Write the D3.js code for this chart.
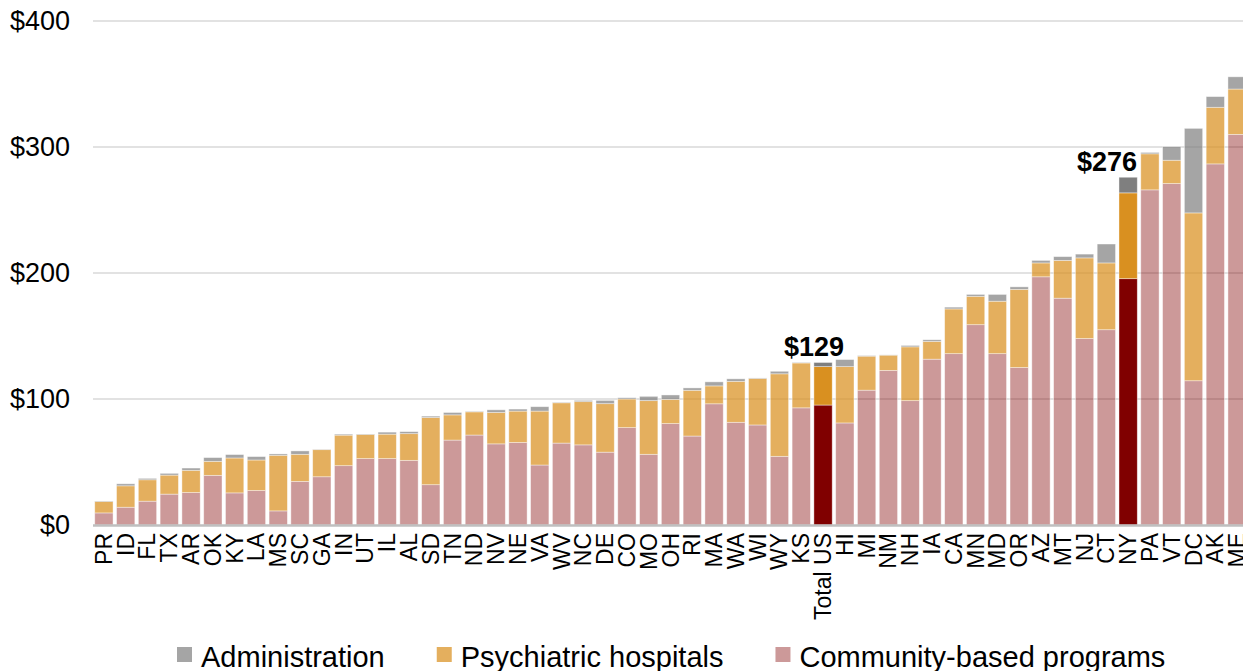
<!DOCTYPE html>
<html>
<head>
<meta charset="utf-8">
<script src="https://cdn.jsdelivr.net/npm/d3@7"></script>
<style>
  body { margin: 0; background: #fff; }
  text { font-family: "Liberation Sans", Arial, sans-serif; fill: #000; }
</style>
</head>
<body>
<svg id="chart" width="1243" height="671"></svg>
<script>
// spending per capita, in dollars
var states = ['PR','ID','FL','TX','AR','OK','KY','LA','MS','SC','GA','IN','UT','IL','AL','SD','TN','ND','NV','NE',
              'VA','WV','NC','DE','CO','MO','OH','RI','MA','WA','WI','WY','KS','Total US','HI','MI','NM','NH','IA','CA',
              'MN','MD','OR','AZ','MT','NJ','CT','NY','PA','VT','DC','AK','ME'];

var community = [9.6,14.1,18.9,24.5,25.8,39.4,25.5,27.4,11.2,34.6,38.3,47.1,52.7,52.7,51.3,32,67.4,71.4,64.4,65.5,
                 47.6,65,63.6,57.8,77.3,56.1,80.5,70.6,96.2,81.5,79.4,54.5,93,95.2,81,107,122.7,98.7,131.6,136,
                 159,136,125,197,180,148,155,195.5,266,271,114.5,286.6,310];

var hospitals = [9.0,17.0,17.0,15.1,17.6,11.1,27.7,24.2,44.1,21.5,21.5,24.2,19.1,19.4,21.2,53.3,20,18.4,24.9,24.9,
                 42.8,32,34.3,38.5,22.7,42.6,19.2,36.3,14.2,32.5,36.9,65.5,35.6,30.5,44.7,27,12.1,42.7,14.1,35.5,
                 22.5,41.6,62,11,30,64,53,68.1,28.6,18.5,133.2,44.9,36];

var admin = [0.4,1.6,1.1,1.4,1.8,3.0,2.7,2.7,1.1,2.7,0.3,0.8,0.4,1.6,1.6,1.1,1.9,0.4,2.1,1.6,
             3.5,0.4,1.0,2.6,1.0,3.4,3.5,1.9,3.2,2.0,0.4,2.0,0.4,3.3,5.6,0.4,0.2,1.1,1.3,1.4,
             1.5,5.4,2,2,3,3,15,12.4,1.1,10.8,67.1,8.5,9.7];

var highlighted = ['Total US','NY'];
var yTicks = [0,100,200,300,400];

var seriesKeys = ['community','hospitals','admin'];
var seriesColor = { community: '#800000', hospitals: '#d99020', admin: '#7f7f7f' };
var paleOpacity = { community: 0.4, hospitals: 0.72, admin: 0.7 };
var legendItems = [
  { key: 'admin', label: 'Administration' },
  { key: 'hospitals', label: 'Psychiatric hospitals' },
  { key: 'community', label: 'Community-based programs' }
];

var rows = states.map(function(s, i) {
  return { state: s, community: community[i], hospitals: hospitals[i], admin: admin[i] };
});

var svg = d3.select('#chart');

var x = d3.scaleBand()
    .domain(states)
    .range([93, 1248])
    .paddingInner(0.16)
    .paddingOuter(0.08);

var y = d3.scaleLinear()
    .domain([0, 400])
    .range([525, 21]);

// gridlines
svg.append('g')
   .selectAll('line')
   .data(yTicks.filter(function(d){ return d > 0; }))
   .enter().append('line')
    .attr('x1', 93).attr('x2', 1243)
    .attr('y1', function(d){ return y(d); })
    .attr('y2', function(d){ return y(d); })
    .attr('stroke', '#d9d9d9')
    .attr('stroke-width', 1.5);

// y axis labels
var yAxis = d3.axisLeft(y)
    .tickValues(yTicks)
    .tickSize(0)
    .tickPadding(0)
    .tickFormat(function(d){ return '$' + d; });

var yg = svg.append('g')
    .attr('transform', 'translate(70,0)')
    .call(yAxis);
yg.select('.domain').remove();
yg.selectAll('text')
  .attr('font-size', 27)
  .attr('font-family', '"Liberation Sans", Arial, sans-serif')
  .attr('fill', '#000');

// stacked bars
var stack = d3.stack().keys(seriesKeys);
var layers = stack(rows);

svg.append('g')
   .selectAll('g')
   .data(layers)
   .enter().append('g')
    .attr('class', function(d){ return 'layer ' + d.key; })
   .each(function(layer) {
     d3.select(this).selectAll('rect')
       .data(layer)
       .enter().append('rect')
        .attr('x', function(d){ return x(d.data.state); })
        .attr('width', x.bandwidth())
        .attr('y', function(d){ return y(d[1]); })
        .attr('height', function(d){ return y(d[0]) - y(d[1]); })
        .attr('fill', seriesColor[layer.key])
        .attr('fill-opacity', function(d){
          return highlighted.indexOf(d.data.state) >= 0 ? 1 : paleOpacity[layer.key];
        })
        .attr('stroke', '#fff')
        .attr('stroke-opacity', 0.5)
        .attr('stroke-width', 0.8);
   });

// baseline
svg.append('line')
   .attr('x1', 93).attr('x2', 1243)
   .attr('y1', y(0) + 0.5).attr('y2', y(0) + 0.5)
   .attr('stroke', '#bfbfbf')
   .attr('stroke-width', 2.5);

// x labels (rotated)
var xg = svg.append('g');
xg.selectAll('text')
  .data(states)
  .enter().append('text')
   .attr('transform', function(d){
     return 'translate(' + (x(d) + x.bandwidth() / 2 + 8) + ',533) rotate(-90)';
   })
   .attr('text-anchor', 'end')
   .attr('font-size', 23)
   .text(function(d){ return d; });

// total annotations
var annotationDx = { 'Total US': 21, 'NY': 9 };
svg.append('g')
   .selectAll('text')
   .data(rows.filter(function(r){ return highlighted.indexOf(r.state) >= 0; }))
   .enter().append('text')
    .attr('x', function(d){ return x(d.state) + x.bandwidth() / 2 + annotationDx[d.state]; })
    .attr('y', function(d){ return y(d.community + d.hospitals + d.admin) - 6; })
    .attr('text-anchor', 'end')
    .attr('font-size', 27)
    .attr('font-weight', 'bold')
    .text(function(d){ return '$' + Math.round(d.community + d.hospitals + d.admin); });

// legend
var legend = svg.append('g');
var lx = 177;
legendItems.forEach(function(item) {
  var g = legend.append('g').attr('transform', 'translate(' + lx + ',0)');
  g.append('rect')
   .attr('x', 0).attr('y', 647)
   .attr('width', 15).attr('height', 15)
   .attr('fill', seriesColor[item.key])
   .attr('fill-opacity', paleOpacity[item.key]);
  var t = g.append('text')
   .attr('x', 24).attr('y', 667)
   .attr('font-size', 29)
   .text(item.label);
  lx += 24 + t.node().getComputedTextLength() + 52;
});
</script>
</body>
</html>
